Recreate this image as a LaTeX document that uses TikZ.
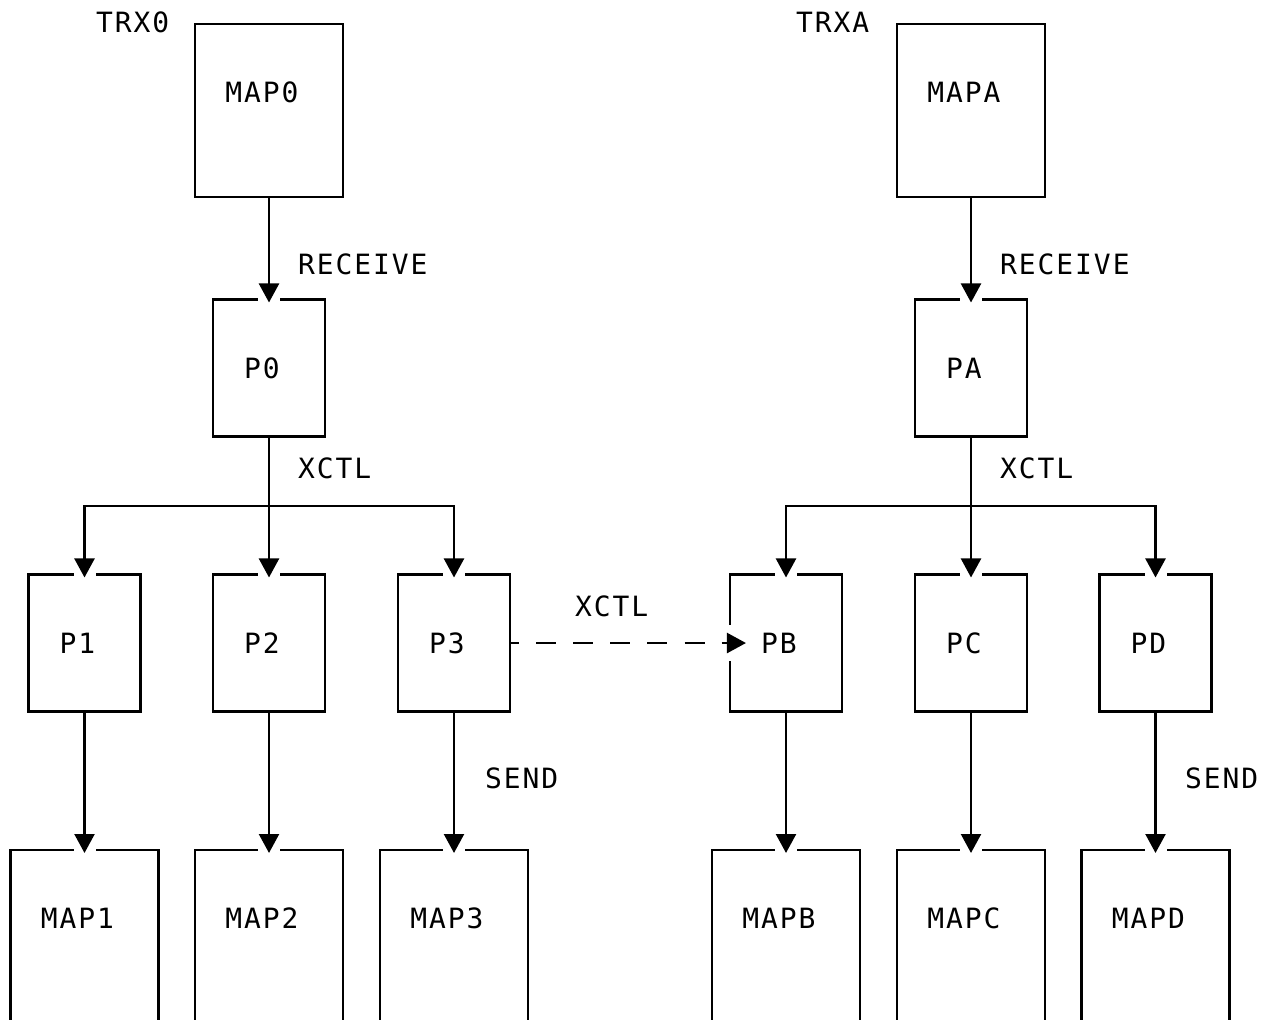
\documentclass[tikz,border=0pt]{standalone}
\usepackage{fontspec}
\setmonofont[LetterSpace=7]{DejaVu Sans Mono}
\usetikzlibrary{arrows.meta,calc}
\def\gapn(#1){\fill[white] ($(#1)+(-11,-3)$) rectangle ($(#1)+(11,3)$);}
\def\gapw(#1){\fill[white] ($(#1)+(-3,-18)$) rectangle ($(#1)+(3,18)$);}

\begin{document}
\begin{tikzpicture}[x=0.02cm,y=-0.02cm,line width=1.25pt,
	every node/.style={font=\ttfamily\fontsize{15.9pt}{19pt}\selectfont, inner sep=0pt},
	mapbox/.style={draw, minimum width=2.96cm, minimum height=3.46cm, text height=11.4pt, text depth=21pt, execute at end node={\hspace{8pt}}},
	procbox/.style={draw, minimum width=2.24cm, minimum height=2.74cm, text height=11.4pt, text depth=0pt, execute at end node={\hspace{8pt}}},
	flow/.style={-{Triangle[width=11.4pt,length=10.8pt]}, shorten >=-2.3pt},
	tag/.style={anchor=west}]
			%%%%% START %%%%%
			\useasboundingbox (0,0) rectangle (1267,1019);
			
			% left transaction
			\node[tag] (trx0) at (95,22) {TRX0};
			\node[mapbox] (map0) at (269,110.5) {MAP0};
			\node[procbox] (p0) at (269,368) {P0};
			\node[procbox] (p1) at (84.5,643) {P1};
			\node[procbox] (p2) at (269,643) {P2};
			\node[procbox] (p3) at (454,643) {P3};
			\node[mapbox] (map1) at (84.5,936.5) {MAP1};
			\node[mapbox] (map2) at (269,936.5) {MAP2};
			\node[mapbox] (map3) at (454,936.5) {MAP3};
			
			% right transaction
			\node[tag] (trxa) at (795,22) {TRXA};
			\node[mapbox] (mapa) at (971,110.5) {MAPA};
			\node[procbox] (pa) at (971,368) {PA};
			\node[procbox] (pb) at (786,643) {PB};
			\node[procbox] (pc) at (971,643) {PC};
			\node[procbox] (pd) at (1155.5,643) {PD};
			\node[mapbox] (mapb) at (786,936.5) {MAPB};
			\node[mapbox] (mapc) at (971,936.5) {MAPC};
			\node[mapbox] (mapd) at (1155.5,936.5) {MAPD};
			
			% labels
			\node[tag] (rcv0) at (297,264) {RECEIVE};
			\node[tag] (xctl0) at (297,468) {XCTL};
			\node[tag] (send0) at (484,778) {SEND};
			\node[tag] (xctl) at (574,606) {XCTL};
			\node[tag] (rcva) at (999,264) {RECEIVE};
			\node[tag] (xctla) at (999,468) {XCTL};
			\node[tag] (senda) at (1184,778) {SEND};
			
			\coordinate (bus0) at (269,506);
			\coordinate (busa) at (971,506);
			
			% gaps in the borders under the tips
			\gapn(p0.north) \gapn(p1.north) \gapn(p2.north) \gapn(p3.north)
			\gapn(map1.north) \gapn(map2.north) \gapn(map3.north)
			\gapn(pa.north) \gapn(pb.north) \gapn(pc.north) \gapn(pd.north)
			\gapn(mapb.north) \gapn(mapc.north) \gapn(mapd.north)
			\gapw(pb.west)
			
			\draw[flow] (map0) -- (p0);
			\draw (p0) -- (bus0);
			\draw[flow] (bus0) -| (p1);
			\draw[flow] (bus0) -- (p2);
			\draw[flow] (bus0) -| (p3);
			\draw[flow] (p1) -- (map1);
			\draw[flow] (p2) -- (map2);
			\draw[flow] (p3) -- (map3);
			
			\draw[flow] (mapa) -- (pa);
			\draw (pa) -- (busa);
			\draw[flow] (busa) -| (pb);
			\draw[flow] (busa) -- (pc);
			\draw[flow] (busa) -| (pd);
			\draw[flow] (pb) -- (mapb);
			\draw[flow] (pc) -- (mapc);
			\draw[flow] (pd) -- (mapd);
			
			\draw[flow, shorten >=-9.7pt, dash pattern=on 11.4pt off 9.7pt, dash phase=6.8pt] (p3) -- (pb);
			%%%%% END %%%%%
\end{tikzpicture}
\end{document}
